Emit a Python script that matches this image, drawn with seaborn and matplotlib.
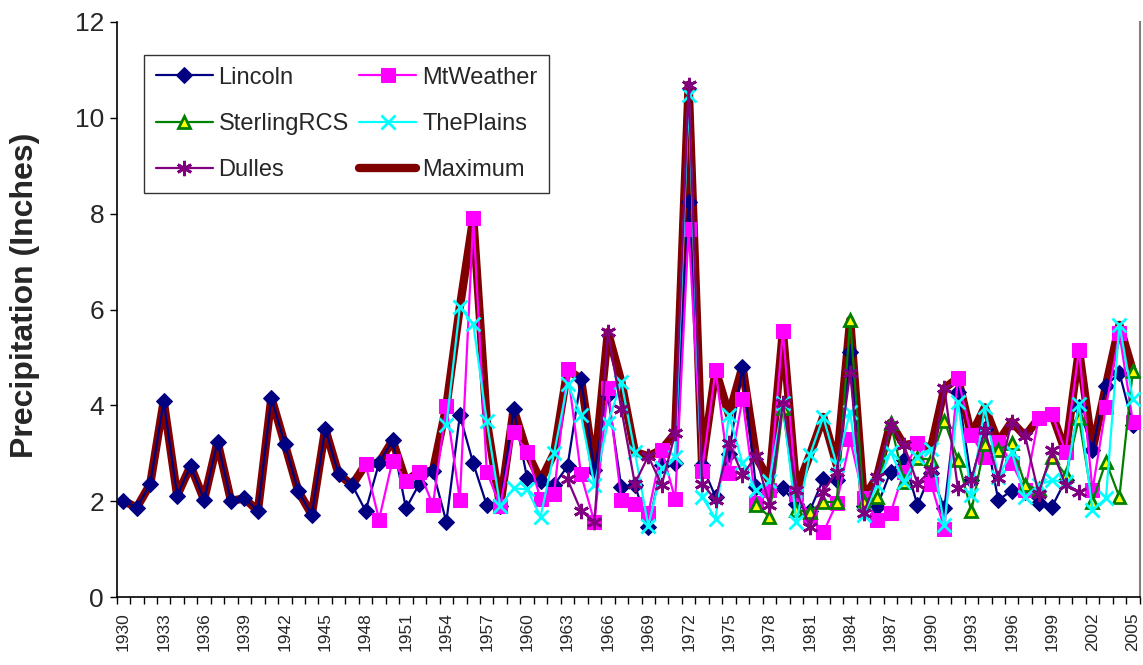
import numpy as np
import pandas as pd
import matplotlib
matplotlib.use("Agg")
import matplotlib.pyplot as plt
import seaborn as sns

# ------------------------------------------
# DATA
# ------------------------------------------

years = list(range(1930, 2006))

lincoln = [2.01, 1.87, 2.36, 4.09, 2.12, 2.74, 2.03, 3.24, 2.01, 2.06,
           1.80, 4.16, 3.19, 2.21, 1.72, 3.51, 2.56, 2.34, 1.80, 2.80,
           3.27, 1.85, 2.37, 2.63, 1.57, 3.79, 2.79, 1.92, 1.90, 3.92,
           2.48, 2.43, 2.34, 2.73, 4.55, 2.65, 4.22, 2.29, 2.34, 1.47,
           2.76, 2.80, 8.25, 2.75, 2.09, 2.99, 4.81, 2.30, 2.20, 2.27,
           1.95, 1.80, 2.46, 2.44, 5.12, 1.90, 1.89, 2.62, 2.87, 1.92,
           2.60, 1.85, 4.29, 2.44, 3.50, 2.03, 2.22, 2.20, 1.96, 1.89,
           2.44, 3.97, 3.07, 4.41, 4.68, 3.60]

mtweather_start = 1948
mtweather = [2.77, 1.62,
             2.85, 2.42, 2.62, 1.92, 3.98, 2.03, 7.91, 2.62, 1.90, 3.45,
             3.02, 2.04, 2.15, 4.75, 2.56, 1.57, 4.36, 2.03, 1.94, 1.75,
             3.08, 2.04, 7.68, 2.64, 4.74, 2.58, 4.14, 1.96, 2.23, 5.55,
             2.16, 1.70, 1.35, 1.96, 3.29, 2.06, 1.61, 1.76, 2.62, 3.22,
             2.37, 1.43, 4.57, 3.38, 2.93, 3.24, 2.80, 2.23, 3.73, 3.82,
             3.03, 5.16, 2.23, 3.96, 5.51, 3.66]

sterling_start = 1977
sterling = [1.93, 1.68, 3.95,
            1.82, 1.78, 1.99, 1.98, 5.78, 1.99, 2.09, 3.64, 2.41, 2.90,
            2.87, 3.68, 2.87, 1.80, 3.19, 3.07, 3.21, 2.34, 2.25, 2.93,
            2.55, 3.73, 1.99, 2.83, 2.09, 4.72]

plains_start = 1954
plains = [3.59, 6.05, 5.70, 3.67, 1.90, 2.27,
          2.25, 1.68, 3.00, 4.45, 3.80, 2.34, 3.64, 4.49, 3.03, 1.48,
          2.69, 2.93, 10.48, 2.09, 1.64, 3.80, 2.79, 2.23, 2.42, 4.05,
          1.57, 2.96, 3.76, 2.76, 3.87, 1.72, 2.34, 3.03, 2.41, 2.93,
          3.10, 1.50, 4.08, 2.13, 3.96, 2.51, 3.03, 2.09, 2.34, 2.44,
          2.41, 4.04, 1.82, 2.06, 5.68, 4.13]

dulles_start = 1963
dulles = [2.46, 1.80, 1.57, 5.53, 3.92, 2.37, 2.94,
          2.34, 3.42, 10.69, 2.37, 2.03, 3.22, 2.55, 2.94, 1.92, 4.06,
          2.23, 1.47, 2.20, 2.62, 4.68, 1.75, 2.51, 3.59, 3.17, 2.37,
          2.65, 4.36, 2.27, 2.44, 3.49, 2.48, 3.66, 3.36, 2.16, 3.07,
          2.34, 2.20]

maximum = [2.01, 1.87, 2.36, 4.09, 2.12, 2.74, 2.03, 3.24, 2.01, 2.06,
           1.80, 4.16, 3.19, 2.21, 1.72, 3.51, 2.56, 2.34, 2.77, 2.80,
           3.27, 2.42, 2.62, 2.63, 3.98, 6.05, 7.91, 3.67, 1.90, 3.92,
           3.02, 2.43, 3.00, 4.75, 4.55, 2.65, 5.53, 4.49, 3.03, 2.94,
           3.08, 3.42, 10.69, 2.75, 4.74, 3.80, 4.81, 2.94, 2.42, 5.55,
           2.23, 2.96, 3.76, 2.76, 5.78, 2.06, 2.51, 3.64, 3.17, 3.22,
           3.10, 4.36, 4.57, 3.38, 3.96, 3.24, 3.66, 3.36, 3.73, 3.82,
           3.03, 5.16, 3.07, 4.41, 5.68, 4.72]


def serie(valores, inicio):
    return pd.Series(valores, index=range(inicio, inicio + len(valores)))


df = pd.DataFrame({
    'Lincoln': serie(lincoln, 1930),
    'MtWeather': serie(mtweather, mtweather_start),
    'SterlingRCS': serie(sterling, sterling_start),
    'ThePlains': serie(plains, plains_start),
    'Dulles': serie(dulles, dulles_start),
    'Maximum': serie(maximum, 1930),
}, index=years)
df.index.name = 'Year'
df = df.reset_index()

# ------------------------------------------
# STYLE
# ------------------------------------------

sns.set_style("white")
plt.rcParams['font.family'] = ['Liberation Sans', 'DejaVu Sans']

estilos = {
    'Lincoln': dict(color='#000080', marker='D', markersize=8.5,
                    markerfacecolor='#000080', markeredgecolor='#000080'),
    'MtWeather': dict(color='#FF00FF', marker='s', markersize=10,
                      markerfacecolor='#FF00FF', markeredgecolor='#FF00FF'),
    'SterlingRCS': dict(color='#008000', marker='^', markersize=9,
                        markerfacecolor='#FFFF00', markeredgecolor='#008000',
                        markeredgewidth=2),
    'ThePlains': dict(color='#00FFFF', marker='x', markersize=10,
                      markeredgecolor='#00FFFF', markeredgewidth=2),
    'Dulles': dict(color='#800080', marker=(6, 2, 0), markersize=11,
                   markeredgecolor='#800080', markeredgewidth=2),
}

fig, ax = plt.subplots(figsize=(11.43, 6.65), dpi=100)
fig.subplots_adjust(left=0.102, right=0.997, top=0.967, bottom=0.102)

# Maximum line underneath
sns.lineplot(data=df, x='Year', y='Maximum', ax=ax, color='#800000',
             linewidth=6, estimator=None, label='Maximum', zorder=2,
             solid_capstyle='round')

for nombre in ['Lincoln', 'MtWeather', 'SterlingRCS', 'ThePlains', 'Dulles']:
    sns.lineplot(data=df, x='Year', y=nombre, ax=ax, linewidth=1.6,
                 estimator=None, label=nombre, zorder=3, **estilos[nombre])

# ------------------------------------------
# AXES
# ------------------------------------------

ax.set_xlim(1929.5, 2005.5)
ax.set_ylim(0, 12)
ax.set_yticks(range(0, 13, 2))
ax.set_xticks(years[::3])
ax.set_xticklabels([str(y) for y in years[::3]], rotation=90, fontsize=12.5)
ax.set_xticks(np.arange(1929.5, 2006, 1), minor=True)
ax.tick_params(axis='x', which='major', length=0, pad=11)
ax.tick_params(axis='x', which='minor', length=5, width=1, color='black',
               direction='out', bottom=True)
ax.tick_params(axis='y', which='major', length=5, width=1, color='black',
               direction='out', left=True, labelsize=19, pad=4)

ax.set_xlabel('')
ax.set_ylabel('Precipitation (Inches)', fontsize=23, fontweight='bold')
ax.yaxis.set_label_coords(-0.075, 0.525)

for lado in ['left', 'bottom']:
    ax.spines[lado].set_color('black')
    ax.spines[lado].set_linewidth(1.2)
ax.spines['top'].set_visible(False)
ax.spines['right'].set_color('#808080')
ax.spines['right'].set_linewidth(1.5)

# legend: row order Lincoln/MtWeather, SterlingRCS/ThePlains, Dulles/Maximum
handles, labels = ax.get_legend_handles_labels()
h = dict(zip(labels, handles))
orden = ['Lincoln', 'SterlingRCS', 'Dulles', 'MtWeather', 'ThePlains', 'Maximum']
leg = ax.legend([h[k] for k in orden], orden, ncol=2, loc='upper left',
                bbox_to_anchor=(0.027, 0.943), fontsize=17, frameon=True,
                fancybox=False, edgecolor='black', handlelength=2.4,
                handletextpad=0.25, columnspacing=0.45, labelspacing=1.03,
                borderpad=0.5, borderaxespad=0)
leg.get_frame().set_linewidth(1.0)

plt.savefig('out.png', dpi=100)
